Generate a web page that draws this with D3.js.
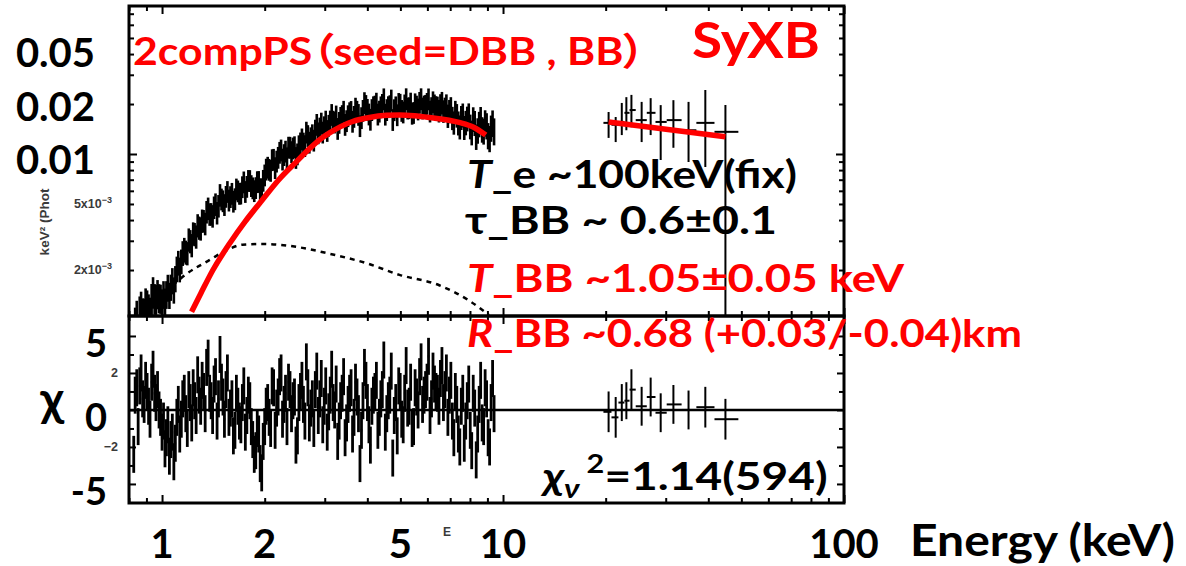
<!DOCTYPE html>
<html><head><meta charset="utf-8">
<script src="https://cdn.jsdelivr.net/npm/d3@7"></script>
<style>body{margin:0;background:#fff}svg{display:block}.palt{font-feature-settings:"palt" 1}</style>
</head><body>
<svg id="chart" width="1186" height="566"></svg>
<script>
// ---------- data ----------
// XIS spectrum, first set of bins
const xisE = [0.826,0.843,0.860,0.877,0.895,0.913,0.932,0.951,0.970,0.990,1.010,1.030,1.051,1.072,1.094,1.116,1.139,1.162,1.186,1.210,1.234,1.259,1.285,1.311,1.338,1.365,1.393,1.421,1.450,1.479,1.509,1.540,1.571,1.603,1.636,1.669,1.703,1.737,1.773,1.809,1.845,1.883,1.921,1.960,2.000,2.041,2.082,2.124,2.168,2.212,2.256,2.302,2.349,2.397,2.446,2.495,2.546,2.598,2.650,2.704,2.759,2.815,2.872,2.931,2.990,3.051,3.113,3.176,3.241,3.307,3.374,3.442,3.512,3.584,3.656,3.731,3.806,3.884,3.963,4.043,4.125,4.209,4.295,4.382,4.471,4.562,4.655,4.749,4.846,4.944,5.045,5.147,5.252,5.359,5.468,5.579,5.692,5.808,5.926,6.047,6.170,6.295,6.423,6.553,6.687,6.822,6.961,7.102,7.247,7.394,7.544,7.697,7.854,8.014,8.177,8.343,8.512,8.685,8.862,9.042,9.226,9.413];
// keV^2 (Photons cm^-2 s^-1 keV^-1), in units of 1e-3
const xisFluxE3 = [0.55,1.02,1.10,1.08,1.25,1.16,1.35,1.36,1.45,1.36,
1.44,1.44,1.42,1.74,1.79,2.23,2.27,2.67,2.54,3.00,
3.34,3.20,3.62,3.99,3.83,4.73,4.38,4.80,4.45,5.70,
5.25,5.58,5.30,5.82,5.40,6.02,5.84,6.82,6.41,6.95,
6.28,6.30,6.86,6.20,7.51,8.36,8.00,9.33,9.10,10.28,
9.36,10.45,11.04,10.38,11.11,10.06,11.71,11.69,13.60,11.83,
13.12,13.99,13.47,15.42,14.66,13.92,15.87,15.84,17.02,15.57,
17.11,15.14,17.08,18.12,16.92,18.17,14.88,18.39,19.69,17.49,
18.60,19.52,17.47,19.32,21.59,18.59,19.63,16.20,19.32,20.25,
18.38,19.84,19.00,20.35,17.87,19.52,20.55,19.01,19.73,21.57,
19.11,19.84,19.18,19.84,18.23,19.71,18.24,16.58,18.02,15.49,
16.70,14.54,16.48,14.76,16.34,12.82,15.27,14.18,15.54,13.01,
14.44,13.83];
const xisRelErr = [.30,.28,.26,.25,.24,.23,.22,.21,.20,.20,
.19,.19,.18,.18,.18,.17,.17,.17,.16,.16,
.16,.16,.16,.16,.155,.155,.155,.155,.155,.155,
.15,.15,.15,.15,.15,.15,.15,.15,.15,.15,
.15,.15,.15,.15,.15,.15,.15,.15,.15,.15,
.15,.15,.15,.15,.15,.15,.15,.15,.15,.15,
.15,.15,.15,.15,.15,.15,.15,.15,.15,.15,
.15,.15,.15,.15,.15,.15,.15,.15,.15,.15,
.15,.15,.15,.15,.15,.15,.15,.15,.15,.15,
.15,.15,.15,.15,.15,.15,.15,.15,.15,.15,
.15,.15,.155,.155,.155,.16,.16,.16,.16,.165,
.165,.165,.17,.17,.17,.175,.175,.175,.18,.18,
.18,.185];
const xisChi = [-2.4,1.2,1.3,0.6,1.6,0.2,1.5,0.9,1.1,-0.4,
-0.6,-1.5,-2.5,-1.2,-1.8,0.3,-0.5,0.9,-1.0,0.4,
1.2,-0.3,0.8,1.6,-0.2,2.8,0.5,1.4,-0.6,3.0,
0.7,1.1,-0.4,0.6,-1.1,0.2,-0.8,1.3,-0.3,0.5,
-1.6,-2.2,-1.3,-3.4,-0.9,0.4,-1.0,1.2,0.1,1.8,
-0.5,0.9,1.5,-0.2,0.7,-1.4,1.0,0.3,2.6,-0.7,
0.6,1.1,-0.3,1.7,0.2,-1.2,0.8,0.4,1.4,-0.6,
0.9,-1.5,0.3,1.2,-0.4,0.7,-2.9,0.5,1.6,-0.8,
0.2,1.0,-1.1,0.6,2.7,-0.2,0.8,-2.6,0.4,1.3,
-0.5,0.9,0.1,1.5,-0.9,0.7,1.8,0.3,1.1,2.9,
0.6,1.4,0.9,1.7,0.4,2.0,0.8,-0.6,1.0,-1.3,
0.2,-1.8,0.5,-1.1,0.9,-2.7,0.3,-0.7,1.2,-1.5,
0.4,-0.2];
// XIS spectrum, second (interleaved) set of bins
const xisE2 = [0.834,0.851,0.868,0.886,0.904,0.922,0.941,0.960,0.980,1.000,1.020,1.040,1.061,1.083,1.105,1.127,1.150,1.174,1.198,1.222,1.246,1.272,1.298,1.324,1.351,1.379,1.407,1.435,1.464,1.494,1.524,1.555,1.587,1.619,1.652,1.686,1.720,1.755,1.791,1.827,1.864,1.902,1.940,1.980,2.020,2.061,2.103,2.146,2.190,2.234,2.279,2.325,2.373,2.421,2.470,2.520,2.572,2.624,2.677,2.731,2.787,2.843,2.901,2.960,3.020,3.082,3.144,3.208,3.274,3.340,3.408,3.477,3.548,3.620,3.693,3.768,3.845,3.923,4.003,4.084,4.167,4.252,4.338,4.426,4.516,4.608,4.702,4.797,4.895,4.994,5.096,5.199,5.305,5.413,5.523,5.635,5.750,5.867,5.986,6.108,6.232,6.359,6.488,6.620,6.754,6.891,7.031,7.174,7.320,7.469,7.620,7.775,7.934,8.095,8.260,8.427,8.598,8.773,8.952,9.134,9.319];
const xisFlux2E3 = [0.92,0.83,1.18,1.08,1.22,1.11,1.49,1.35,1.37,1.28,
1.30,1.58,1.59,1.53,2.05,2.03,2.55,2.58,3.07,2.84,
3.31,3.74,3.58,3.98,4.51,4.37,4.26,5.01,4.90,5.38,
4.98,5.97,5.56,5.22,6.18,5.82,6.38,5.97,6.96,6.48,
6.04,6.84,6.20,6.97,8.14,8.12,9.28,8.31,9.59,10.62,
9.96,9.53,11.03,10.92,9.57,11.26,12.38,11.28,12.97,12.58,
12.17,15.14,14.40,13.61,15.85,14.96,17.38,15.65,14.32,16.69,
18.17,15.95,17.81,15.81,18.97,17.39,16.63,20.48,18.64,16.26,
19.34,20.33,18.20,19.99,17.45,19.36,21.23,18.56,17.31,20.03,
17.99,21.62,19.08,17.67,20.15,18.75,21.62,19.55,20.27,18.22,
20.72,19.35,18.32,20.48,18.87,17.08,18.96,15.56,17.20,14.65,
17.29,15.57,17.24,13.58,15.49,13.97,16.33,13.86,14.92,12.50,
15.48];
const xisRelErr2 = [.29,.27,.255,.245,.235,.225,.215,.205,.20,.195,
.19,.185,.18,.18,.175,.17,.17,.165,.16,.16,
.16,.16,.16,.155,.155,.155,.155,.155,.155,.15,
.15,.15,.15,.15,.15,.15,.15,.15,.15,.15,
.15,.15,.15,.15,.15,.15,.15,.15,.15,.15,
.15,.15,.15,.15,.15,.15,.15,.15,.15,.15,
.15,.15,.15,.15,.15,.15,.15,.15,.15,.15,
.15,.15,.15,.15,.15,.15,.15,.15,.15,.15,
.15,.15,.15,.15,.15,.15,.15,.15,.15,.15,
.15,.15,.15,.15,.15,.15,.15,.15,.15,.15,
.15,.152,.155,.155,.158,.16,.16,.16,.162,.165,
.165,.168,.17,.17,.172,.175,.175,.178,.18,.18,
.182];
const xisChi2 = [0.8,-0.9,2.0,0.3,1.0,-0.5,2.2,0.4,0.0,-1.2,
-2.1,-0.8,-1.6,-2.8,-0.4,-1.3,0.6,-0.2,1.1,-0.7,
0.5,1.9,0.2,1.0,2.3,0.9,-0.3,1.8,0.6,1.5,
-0.5,2.0,0.1,-1.4,0.9,-0.6,0.4,-1.2,0.8,-0.9,
-2.4,-1.0,-2.9,-1.7,0.2,-0.4,1.3,-1.1,0.7,2.0,
0.3,-0.9,1.1,0.5,-1.9,0.4,1.6,-0.6,1.2,0.1,
-1.0,2.1,0.6,-0.8,1.3,-0.1,2.2,0.0,-1.7,0.5,
1.8,-0.7,0.9,-1.3,1.5,-0.2,-1.1,2.3,0.4,-1.9,
0.8,1.6,-0.4,1.1,-1.2,0.5,2.1,-0.3,-1.4,1.0,
-0.8,2.4,0.2,-1.0,1.2,0.0,2.6,0.8,1.5,-0.3,
2.1,1.0,0.2,2.4,1.1,-0.4,1.6,-1.5,0.3,-2.0,
0.9,-0.6,1.4,-2.2,0.1,-1.3,1.6,-0.9,0.6,-2.0,
1.7];

// HXD/PIN spectrum
const hxdE    = [20.4,21.4,22.3,23.0,23.8,25.5,27.1,29.0,31.6,35.0,39.2,44.9];
const hxdELo  = [19.7,20.8,21.8,22.7,23.5,24.5,26.4,28.0,30.2,33.4,36.9,41.7];
const hxdEHi  = [20.8,21.8,22.7,23.5,24.5,26.4,28.0,30.2,33.4,36.9,41.7,49.0];
const hxdFlux = [1.54e-2,1.50e-2,1.56e-2,1.77e-2,1.84e-2,1.60e-2,1.77e-2,1.56e-2,1.60e-2,1.39e-2,1.54e-2,1.36e-2];
const hxdFLo  = [1.25e-2,1.18e-2,1.30e-2,1.39e-2,1.45e-2,1.18e-2,1.30e-2,0.92e-2,1.09e-2,0.895e-2,0.835e-2,0.5e-3];
const hxdFHi  = [1.79e-2,1.67e-2,2.03e-2,2.20e-2,2.27e-2,2.06e-2,2.17e-2,1.97e-2,2.11e-2,2.06e-2,2.43e-2,1.97e-2];
const hxdChi  = [-0.1,-0.4,0.4,0.5,1.1,0.2,0.7,-0.15,0.3,0.0,0.15,-0.5];
const hxdChiErr = [1.1,1.1,1.0,1.0,1.1,1.05,1.05,1.05,1.05,1.05,1.1,1.1];

// model components
const compE = [1.22,1.30,1.41,1.58,1.75,1.97,2.2,2.48,2.7,2.9,3.1,3.62,4.06,4.55,4.97,5.5,6.07,7.43,8.2,8.9];
const compF = [1.12e-3,1.45e-3,2.0e-3,2.9e-3,3.9e-3,5.3e-3,7.0e-3,9.0e-3,1.07e-2,1.22e-2,1.34e-2,1.57e-2,1.66e-2,1.71e-2,1.72e-2,1.70e-2,1.66e-2,1.55e-2,1.45e-2,1.30e-2];
const compHxdE = [20.4,44.9];
const compHxdF = [1.56e-2,1.27e-2];
const seedE = [0.904,1.02,1.17,1.38,1.55,1.72,1.97,2.21,2.58,3.04,3.97,4.97,6.5,7.9,9.1];
const seedF = [1.06e-3,1.45e-3,1.87e-3,2.3e-3,2.64e-3,2.84e-3,2.87e-3,2.84e-3,2.72e-3,2.53e-3,2.2e-3,1.87e-3,1.62e-3,1.32e-3,1.07e-3];

// tick labels
const yBigLabels = ["0.05","0.02","0.01"];
const chiBigLabels = ["5","0","-5"];
const xLabels = [1,2,5,10,100];
const ySmallLabels = [5e-3,2e-3];
const chiSmallLabels = [2,-2];

// ---------- layout ----------
const L=129, R=844, TOP=6, MID=316, BOT=503;
const FONT = "Lato, 'Noto Sans', 'Noto Sans CJK JP', sans-serif";
const svg = d3.select("#chart");

const x = d3.scaleLog().domain([0.8,100]).range([L,R]);
const yT = d3.scaleLog().domain([1.057e-3,0.0779]).range([MID,TOP]);
const yR = d3.scaleLinear().domain([-5.03,5.08]).range([BOT,MID]);

const defs = svg.append("defs");
defs.append("clipPath").attr("id","cT").append("rect").attr("x",L).attr("y",TOP).attr("width",R-L).attr("height",MID-TOP);
defs.append("clipPath").attr("id","cR").append("rect").attr("x",L).attr("y",MID).attr("width",R-L).attr("height",BOT-MID);

// ---------- ticks ----------
const isDecade = v => Math.abs(Math.log10(v)-Math.round(Math.log10(v)))<1e-6;
const xt = x.ticks();
const xMajor = xt.filter(isDecade);
const xMinor = xt.filter(v => !isDecade(v));
const yt = yT.ticks();
const yMajor = yt.filter(isDecade);
const yMinor = yt.filter(v => !isDecade(v));
const rt = d3.range(-4,5);
const rMajor = [-4,-2,0,2,4];
const rMinor = rt.filter(v=>!rMajor.includes(v));

function tick(axisFn, scale, vals, len, tr){
  const g = svg.append("g").attr("transform",tr)
    .call(axisFn(scale).tickValues(vals).tickSize(-len).tickFormat(""));
  g.select(".domain").remove();
  g.selectAll("line").attr("stroke","#000").attr("stroke-width",2);
}
[[xMajor,8],[xMinor,5]].forEach(([v,l])=>{
  tick(d3.axisTop, x, v, l, `translate(0,${TOP})`);
  tick(d3.axisBottom, x, v, l, `translate(0,${MID})`);
  tick(d3.axisTop, x, v, l, `translate(0,${MID})`);
  tick(d3.axisBottom, x, v, l, `translate(0,${BOT})`);
});
[[yMajor,8],[yMinor,5]].forEach(([v,l])=>{
  tick(d3.axisLeft, yT, v, l, `translate(${L},0)`);
  tick(d3.axisRight, yT, v, l, `translate(${R},0)`);
});
[[rMajor,7],[rMinor,5]].forEach(([v,l])=>{
  tick(d3.axisLeft, yR, v, l, `translate(${L},0)`);
  tick(d3.axisRight, yR, v, l, `translate(${R},0)`);
});

// ---------- data (top) ----------
const xisAll = xisE.map((e,i)=>({e, f:xisFluxE3[i]*1e-3, re:xisRelErr[i], chi:xisChi[i]}))
  .concat(xisE2.map((e,i)=>({e, f:xisFlux2E3[i]*1e-3, re:xisRelErr2[i], chi:xisChi2[i]})))
  .sort((a,b)=>a.e-b.e);
const n = xisAll.length;
xisAll.forEach((d,i)=>{
  d.lo = i>0 ? Math.sqrt(xisAll[i-1].e*d.e) : d.e*d.e/Math.sqrt(xisAll[1].e*d.e);
  d.hi = i<n-1 ? Math.sqrt(xisAll[i+1].e*d.e) : d.e*d.e/Math.sqrt(xisAll[i-1].e*d.e);
});
const hxd = hxdE.map((e,i)=>({e, lo:hxdELo[i], hi:hxdEHi[i], f:hxdFlux[i], fLo:hxdFLo[i], fHi:hxdFHi[i], chi:hxdChi[i], ce:hxdChiErr[i]}));

const gT = svg.append("g").attr("clip-path","url(#cT)");
const gX = gT.append("g").attr("stroke","#000");
gX.selectAll("line.v").data(xisAll).join("line").attr("class","v")
  .attr("x1",d=>x(d.e)).attr("x2",d=>x(d.e))
  .attr("y1",d=>yT(d.f*(1+d.re))).attr("y2",d=>yT(d.f*(1-d.re))).attr("stroke-width",2.6);
gX.selectAll("line.h").data(xisAll).join("line").attr("class","h")
  .attr("x1",d=>x(d.lo)).attr("x2",d=>x(d.hi))
  .attr("y1",d=>yT(d.f)).attr("y2",d=>yT(d.f)).attr("stroke-width",2.5);
const gH = gT.append("g").attr("stroke","#000");
gH.selectAll("line.v").data(hxd).join("line").attr("class","v")
  .attr("x1",d=>x(d.e)).attr("x2",d=>x(d.e))
  .attr("y1",d=>yT(d.fHi)).attr("y2",d=>yT(d.fLo)).attr("stroke-width",2);
gH.selectAll("line.h").data(hxd).join("line").attr("class","h")
  .attr("x1",d=>x(d.lo)).attr("x2",d=>x(d.hi))
  .attr("y1",d=>yT(d.f)).attr("y2",d=>yT(d.f)).attr("stroke-width",2);

const line = d3.line().x(d=>x(d[0])).y(d=>yT(d[1])).curve(d3.curveMonotoneX);
gT.append("path").attr("d",line(seedE.map((e,i)=>[e,seedF[i]])))
  .attr("fill","none").attr("stroke","#000").attr("stroke-width",2.5).attr("stroke-dasharray","5,5");
gT.append("path").attr("d",line(compE.map((e,i)=>[e,compF[i]])))
  .attr("fill","none").attr("stroke","#ff0000").attr("stroke-width",5.5);
gT.append("path").attr("d",line(compHxdE.map((e,i)=>[e,compHxdF[i]])))
  .attr("fill","none").attr("stroke","#ff0000").attr("stroke-width",5.5);

// ---------- residuals ----------
const gR = svg.append("g").attr("clip-path","url(#cR)");
gR.append("line").attr("x1",L).attr("x2",R).attr("y1",yR(0)).attr("y2",yR(0)).attr("stroke","#000").attr("stroke-width",2.5);
const gRX = gR.append("g").attr("stroke","#000");
gRX.selectAll("line.v").data(xisAll).join("line").attr("class","v")
  .attr("x1",d=>x(d.e)).attr("x2",d=>x(d.e))
  .attr("y1",d=>yR(d.chi+1)).attr("y2",d=>yR(d.chi-1)).attr("stroke-width",2.8);
gRX.selectAll("line.h").data(xisAll).join("line").attr("class","h")
  .attr("x1",d=>x(d.lo)).attr("x2",d=>x(d.hi))
  .attr("y1",d=>yR(d.chi)).attr("y2",d=>yR(d.chi)).attr("stroke-width",2.5);
const gRH = gR.append("g").attr("stroke","#000");
gRH.selectAll("line.v").data(hxd).join("line").attr("class","v")
  .attr("x1",d=>x(d.e)).attr("x2",d=>x(d.e))
  .attr("y1",d=>yR(d.chi+d.ce)).attr("y2",d=>yR(d.chi-d.ce)).attr("stroke-width",2);
gRH.selectAll("line.h").data(hxd).join("line").attr("class","h")
  .attr("x1",d=>x(d.lo)).attr("x2",d=>x(d.hi))
  .attr("y1",d=>yR(d.chi)).attr("y2",d=>yR(d.chi)).attr("stroke-width",2);

// frames
svg.append("rect").attr("x",L).attr("y",TOP).attr("width",R-L).attr("height",MID-TOP).attr("fill","none").attr("stroke","#000").attr("stroke-width",3);
svg.append("rect").attr("x",L).attr("y",MID).attr("width",R-L).attr("height",BOT-MID).attr("fill","none").attr("stroke","#000").attr("stroke-width",3);

// ---------- small original labels ----------
const small = svg.append("g").attr("font-family","'Liberation Sans', Arial, sans-serif").attr("font-weight","bold").attr("font-size",12.5).attr("fill","#3a3a3a");
small.selectAll("text.ys").data(ySmallLabels).join("text").attr("class","ys")
  .attr("x",112).attr("y",d=>yT(d)+4).attr("text-anchor","end")
  .each(function(d){
    const t=d3.select(this); const m = Math.round(d/1e-3);
    t.append("tspan").text(m+"x10");
    t.append("tspan").attr("dy",-5).attr("font-size",9).text("−3");
  });
small.selectAll("text.rs").data(chiSmallLabels).join("text").attr("class","rs")
  .attr("x",118).attr("y",d=>yR(d)+4).attr("text-anchor","end").text(d=>d<0?"−"+(-d):d);
small.append("text").attr("transform","translate(49,222) rotate(-90)").attr("text-anchor","middle").attr("font-size",13.5).text("keV² (Phot");
small.append("text").attr("x",447).attr("y",536).attr("text-anchor","middle").attr("font-size",12).text("E");

// ---------- big overlay labels ----------
const big = svg.append("g").attr("font-family",FONT).attr("font-weight","bold");
const yLabPos = d3.scalePoint().domain(yBigLabels).range([67,174]);
big.selectAll("text.yl").data(yBigLabels).join("text").attr("class","yl")
  .attr("x",95).attr("y",d=>yLabPos(d)).attr("text-anchor","end").attr("font-size",40).text(d=>d);
const cLabPos = d3.scalePoint().domain(chiBigLabels).range([357,505]);
big.selectAll("text.cl").data(chiBigLabels).join("text").attr("class","cl")
  .attr("x",107).attr("y",d=>cLabPos(d)).attr("text-anchor","end").attr("font-size",38).text(d=>d);
big.append("text").attr("x",52).attr("y",416).attr("text-anchor","middle").attr("font-size",48).text("χ");
big.selectAll("text.xl").data(xLabels).join("text").attr("class","xl")
  .attr("x",d=>x(d)).attr("y",558).attr("text-anchor","middle").attr("font-size",40).text(d=>d);

// place text: font size sets the height, a horizontal scale sets the width
function place(t, xp, yp, w){
  t.attr("x",0).attr("y",0);
  const bw = t.node().getBBox().width;
  t.attr("transform",`translate(${xp},${yp}) scale(${w/bw},1)`);
  return t;
}
place(big.append("text").attr("font-size",43).text("Energy (keV)"), 910, 556, 265);
place(big.append("text").attr("class","palt").attr("font-size",38).attr("fill","#ff0000").text("2compPS（seed=DBB , BB）"), 133, 65, 512);
place(big.append("text").attr("font-size",50).attr("fill","#ff0000").text("SyXB"), 692, 58, 128);

function rich(xp, yp, parts, fill, w, fs){
  const t = big.append("text").attr("font-size",fs).attr("fill",fill);
  parts.forEach(p=>{
    const s = t.append("tspan").text(p.t);
    if(p.i) s.attr("font-style","italic");
  });
  return place(t, xp, yp, w);
}
rich(467,188,[{t:"T",i:1},{t:"_e ~100keV(fix)"}],"#000",330,39);
rich(465,234,[{t:"τ_BB ~ 0.6±0.1"}],"#000",312,39);
rich(467,292,[{t:"T",i:1},{t:"_BB ~1.05±0.05 keV"}],"#ff0000",438,38);
rich(467,347,[{t:"R",i:1},{t:"_BB ~0.68 (+0.03/-0.04)km"}],"#ff0000",555,38);

const chi2 = big.append("text").attr("font-size",39).attr("fill","#000");
chi2.append("tspan").attr("font-style","italic").text("χ");
chi2.append("tspan").attr("font-style","italic").attr("font-size",27).attr("dy",8).text("ν");
chi2.append("tspan").attr("font-size",26).attr("dx",6).attr("dy",-25).text("2");
chi2.append("tspan").attr("dy",17).text("=1.14(594)");
place(chi2, 543, 490, 287);
</script>
</body></html>
